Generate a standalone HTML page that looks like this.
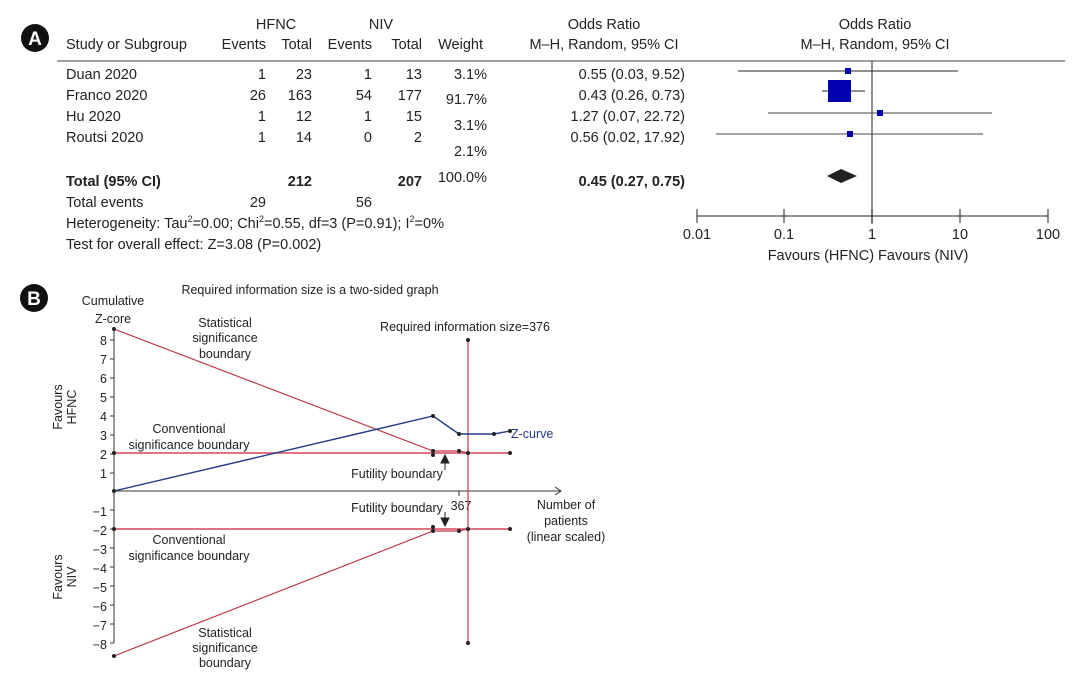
<!DOCTYPE html>
<html><head><meta charset="utf-8"><style>
html,body{margin:0;padding:0;background:#fff;width:1089px;height:694px;overflow:hidden}
svg{display:block;font-family:"Liberation Sans",sans-serif}
</style></head><body>
<svg width="1089" height="694" viewBox="0 0 1089 694" xmlns="http://www.w3.org/2000/svg">
<!-- Panel A -->
<circle cx="35" cy="38" r="14" fill="#111"/>
<text x="35" y="45" font-size="19" font-weight="bold" fill="#fff" text-anchor="middle">A</text>
<g font-size="14.5" fill="#222">
<text x="276" y="29" text-anchor="middle">HFNC</text>
<text x="381" y="29" text-anchor="middle">NIV</text>
<text x="66" y="49">Study or Subgroup</text>
<text x="266" y="49" text-anchor="end">Events</text>
<text x="312" y="49" text-anchor="end">Total</text>
<text x="372" y="49" text-anchor="end">Events</text>
<text x="422" y="49" text-anchor="end">Total</text>
<text x="483" y="49" text-anchor="end">Weight</text>
<text x="604" y="29" text-anchor="middle">Odds Ratio</text>
<text x="604" y="49" text-anchor="middle">M–H, Random, 95% CI</text>
<text x="875" y="29" text-anchor="middle">Odds Ratio</text>
<text x="875" y="49" text-anchor="middle">M–H, Random, 95% CI</text>
</g>
<line x1="57" y1="61" x2="1065" y2="61" stroke="#666" stroke-width="1.3"/>
<g font-size="14.5" fill="#222">
<text x="66" y="79">Duan 2020</text><text x="266" y="79" text-anchor="end">1</text><text x="312" y="79" text-anchor="end">23</text><text x="372" y="79" text-anchor="end">1</text><text x="422" y="79" text-anchor="end">13</text><text x="487" y="79" text-anchor="end">3.1%</text>
<text x="66" y="100">Franco 2020</text><text x="266" y="100" text-anchor="end">26</text><text x="312" y="100" text-anchor="end">163</text><text x="372" y="100" text-anchor="end">54</text><text x="422" y="100" text-anchor="end">177</text><text x="487" y="104" text-anchor="end">91.7%</text>
<text x="66" y="121">Hu 2020</text><text x="266" y="121" text-anchor="end">1</text><text x="312" y="121" text-anchor="end">12</text><text x="372" y="121" text-anchor="end">1</text><text x="422" y="121" text-anchor="end">15</text><text x="487" y="130" text-anchor="end">3.1%</text>
<text x="66" y="142">Routsi 2020</text><text x="266" y="142" text-anchor="end">1</text><text x="312" y="142" text-anchor="end">14</text><text x="372" y="142" text-anchor="end">0</text><text x="422" y="142" text-anchor="end">2</text><text x="487" y="156" text-anchor="end">2.1%</text>
<text x="66" y="186" font-weight="bold">Total (95% CI)</text><text x="312" y="186" text-anchor="end" font-weight="bold">212</text><text x="422" y="186" text-anchor="end" font-weight="bold">207</text><text x="487" y="182" text-anchor="end">100.0%</text>
<text x="66" y="207">Total events</text><text x="266" y="207" text-anchor="end">29</text><text x="372" y="207" text-anchor="end">56</text>
<text x="66" y="228">Heterogeneity: Tau<tspan font-size="9" dy="-6">2</tspan><tspan dy="6">=0.00; Chi</tspan><tspan font-size="9" dy="-6">2</tspan><tspan dy="6">=0.55, df=3 (P=0.91); I</tspan><tspan font-size="9" dy="-6">2</tspan><tspan dy="6">=0%</tspan></text>
<text x="66" y="249">Test for overall effect: Z=3.08 (P=0.002)</text>
<text x="685" y="79" text-anchor="end">0.55 (0.03, 9.52)</text>
<text x="685" y="100" text-anchor="end">0.43 (0.26, 0.73)</text>
<text x="685" y="121" text-anchor="end">1.27 (0.07, 22.72)</text>
<text x="685" y="142" text-anchor="end">0.56 (0.02, 17.92)</text>
<text x="685" y="186" text-anchor="end" font-weight="bold">0.45 (0.27, 0.75)</text>
</g>
<line x1="872" y1="61" x2="872" y2="224" stroke="#555" stroke-width="1.3"/>
<line x1="738" y1="71" x2="958" y2="71" stroke="#222"/><rect x="845" y="68" width="6" height="6" fill="#0000b0"/>
<line x1="822" y1="91" x2="865" y2="91" stroke="#222"/><rect x="828" y="80" width="23" height="22" fill="#0000b0"/>
<line x1="768" y1="113" x2="992" y2="113" stroke="#444"/><rect x="877" y="110" width="6" height="6" fill="#0000b0"/>
<line x1="716" y1="134" x2="983" y2="134" stroke="#444"/><rect x="847" y="131" width="6" height="6" fill="#0000b0"/>
<polygon points="827,176 841,169 857,176 841,183" fill="#222"/>
<line x1="697" y1="216" x2="1048" y2="216" stroke="#222"/>
<g stroke="#222"><line x1="697" y1="209" x2="697" y2="223"/><line x1="784" y1="209" x2="784" y2="223"/><line x1="872" y1="209" x2="872" y2="223"/><line x1="960" y1="209" x2="960" y2="223"/><line x1="1048" y1="209" x2="1048" y2="223"/></g>
<g font-size="14.5" fill="#222" text-anchor="middle">
<text x="697" y="239">0.01</text><text x="784" y="239">0.1</text><text x="872" y="239">1</text><text x="960" y="239">10</text><text x="1048" y="239">100</text>
<text x="868" y="260">Favours (HFNC)  Favours (NIV)</text>
</g>
<!-- Panel B -->
<circle cx="34" cy="298" r="14" fill="#111"/>
<text x="34" y="305" font-size="19" font-weight="bold" fill="#fff" text-anchor="middle">B</text>
<g font-size="12.5" fill="#222">
<text x="310" y="294" text-anchor="middle">Required information size is a two-sided graph</text>
<text x="113" y="305" text-anchor="middle">Cumulative</text>
<text x="113" y="323" text-anchor="middle">Z-core</text>
<text x="225" y="327" text-anchor="middle">Statistical</text>
<text x="225" y="342" text-anchor="middle">significance</text>
<text x="225" y="358" text-anchor="middle">boundary</text>
<text x="465" y="331" text-anchor="middle">Required information size=376</text>
<text x="189" y="433" text-anchor="middle">Conventional</text>
<text x="189" y="449" text-anchor="middle">significance boundary</text>
<text x="397" y="478" text-anchor="middle">Futility boundary</text>
<text x="397" y="512" text-anchor="middle">Futility boundary</text>
<text x="461" y="510" text-anchor="middle">367</text>
<text x="566" y="509" text-anchor="middle">Number of</text>
<text x="566" y="525" text-anchor="middle">patients</text>
<text x="566" y="541" text-anchor="middle">(linear scaled)</text>
<text x="189" y="544" text-anchor="middle">Conventional</text>
<text x="189" y="560" text-anchor="middle">significance boundary</text>
<text x="225" y="637" text-anchor="middle">Statistical</text>
<text x="225" y="652" text-anchor="middle">significance</text>
<text x="225" y="667" text-anchor="middle">boundary</text>
<text x="511" y="438" fill="#223a8a">Z-curve</text>
<text transform="translate(62,407) rotate(-90)" text-anchor="middle">Favours</text>
<text transform="translate(76,407) rotate(-90)" text-anchor="middle">HFNC</text>
<text transform="translate(62,577) rotate(-90)" text-anchor="middle">Favours</text>
<text transform="translate(76,577) rotate(-90)" text-anchor="middle">NIV</text>
</g>
<g font-size="12.5" fill="#222" text-anchor="end">
<text x="107" y="345">8</text><text x="107" y="364">7</text><text x="107" y="383">6</text><text x="107" y="402">5</text><text x="107" y="421">4</text><text x="107" y="440">3</text><text x="107" y="459">2</text><text x="107" y="478">1</text>
<text x="107" y="516">−1</text><text x="107" y="535">−2</text><text x="107" y="554">−3</text><text x="107" y="573">−4</text><text x="107" y="592">−5</text><text x="107" y="611">−6</text><text x="107" y="630">−7</text><text x="107" y="649">−8</text>
</g>
<g stroke="#333" stroke-width="1">
<line x1="114" y1="330" x2="114" y2="643"/>
<line x1="114" y1="491" x2="561" y2="491"/>
<polyline points="555,487 561,491 555,495" fill="none"/>
<line x1="110" y1="340" x2="114" y2="340"/><line x1="110" y1="359" x2="114" y2="359"/><line x1="110" y1="378" x2="114" y2="378"/><line x1="110" y1="397" x2="114" y2="397"/><line x1="110" y1="416" x2="114" y2="416"/><line x1="110" y1="435" x2="114" y2="435"/><line x1="110" y1="454" x2="114" y2="454"/><line x1="110" y1="473" x2="114" y2="473"/>
<line x1="110" y1="510" x2="114" y2="510"/><line x1="110" y1="529" x2="114" y2="529"/><line x1="110" y1="548" x2="114" y2="548"/><line x1="110" y1="567" x2="114" y2="567"/><line x1="110" y1="586" x2="114" y2="586"/><line x1="110" y1="605" x2="114" y2="605"/><line x1="110" y1="624" x2="114" y2="624"/><line x1="110" y1="643" x2="114" y2="643"/>
<line x1="459" y1="491" x2="459" y2="496"/>
</g>
<g stroke="#c0394a" stroke-width="1.2" fill="none">
<line x1="114" y1="453" x2="510" y2="453" stroke-width="1.8" stroke="#d9606e"/>
<line x1="114" y1="529" x2="510" y2="529" stroke-width="1.8" stroke="#d9606e"/>
<line x1="468" y1="340" x2="468" y2="643"/>
<polyline points="114,329 433,451 459,451 468,453"/>
<polyline points="114,656 433,531 459,531 468,529"/>
</g>
<polyline points="114,491 433,416 459,434 494,434 510,431" fill="none" stroke="#223a8a" stroke-width="1.4"/>
<g fill="#222">
<circle cx="114" cy="329" r="2"/><circle cx="114" cy="656" r="2"/><circle cx="114" cy="453" r="2"/><circle cx="114" cy="529" r="2"/><circle cx="114" cy="491" r="2"/>
<circle cx="433" cy="416" r="2"/><circle cx="459" cy="434" r="2"/><circle cx="494" cy="434" r="2"/><circle cx="510" cy="431" r="2"/>
<circle cx="433" cy="451" r="2"/><circle cx="433" cy="455" r="2"/><circle cx="459" cy="451" r="2"/><circle cx="468" cy="453" r="2"/><circle cx="510" cy="453" r="2"/>
<circle cx="433" cy="531" r="2"/><circle cx="433" cy="527" r="2"/><circle cx="459" cy="531" r="2"/><circle cx="468" cy="529" r="2"/><circle cx="510" cy="529" r="2"/>
<circle cx="468" cy="340" r="2"/><circle cx="468" cy="643" r="2"/>
</g>
<g stroke="#222" fill="#222">
<line x1="445" y1="470" x2="445" y2="460"/><polygon points="441,463 445,455 449,463"/>
<line x1="445" y1="512" x2="445" y2="520"/><polygon points="441,518 445,526 449,518"/>
</g>
</svg>
</body></html>
